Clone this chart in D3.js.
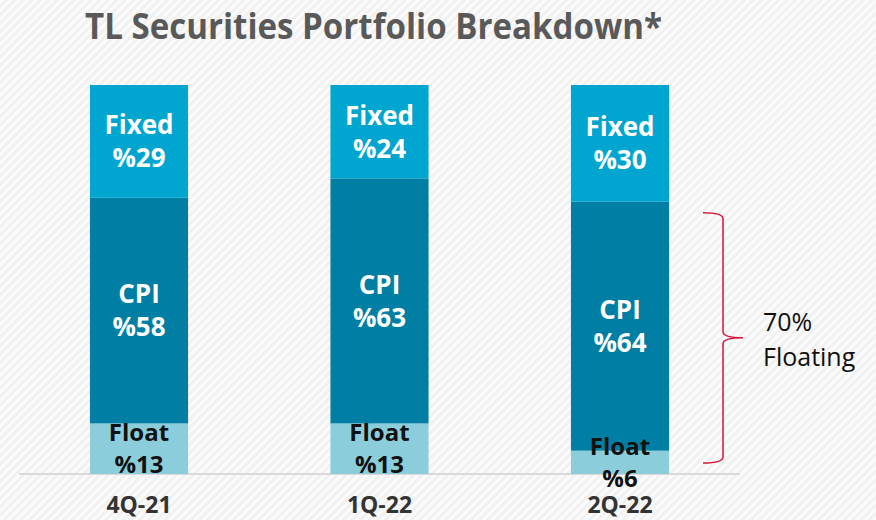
<!DOCTYPE html>
<html>
<head>
<meta charset="utf-8">
<script src="https://cdn.jsdelivr.net/npm/d3@7"></script>
<style>
  body { margin: 0; background: #f3f3f3; }
  svg { display: block; }
</style>
</head>
<body>
<svg width="876" height="520"></svg>
<script>
// data
var quarters = ["4Q-21", "1Q-22", "2Q-22"];
var fixedPct = [29, 24, 30];
var cpiPct = [58, 63, 64];
var floatPct = [13, 13, 6];
var segNames = ["Float", "CPI", "Fixed"];
var segColors = ["#8ccddc", "#007ea3", "#00a6d0"];
var segText = ["#111111", "#ffffff", "#ffffff"];

var svg = d3.select("svg"),
    width = +svg.attr("width"),
    height = +svg.attr("height");

// striped background
var defs = svg.append("defs");
var pat = defs.append("pattern")
    .attr("id", "stripes")
    .attr("width", 6).attr("height", 6)
    .attr("patternUnits", "userSpaceOnUse")
    .attr("patternTransform", "rotate(45)");
pat.append("rect").attr("width", 6).attr("height", 6).attr("fill", "#f1f1f1");
pat.append("rect").attr("width", 3).attr("height", 6).attr("fill", "#fbfbfb");
svg.append("rect").attr("width", width).attr("height", height).attr("fill", "url(#stripes)");

// title
svg.append("text")
    .attr("x", 85).attr("y", 39)
    .attr("textLength", 577)
    .attr("lengthAdjust", "spacingAndGlyphs")
    .style("font-family", "'Open Sans', sans-serif")
    .style("font-weight", "bold")
    .style("font-size", "36px")
    .style("fill", "#595959")
    .text("TL Securities Portfolio Breakdown*");

var x = d3.scaleBand()
    .domain(quarters)
    .range([19, 740])
    .paddingInner(0.592)
    .paddingOuter(0.295);

var y = d3.scaleLinear().domain([0, 100]).range([474, 85]);

var table = quarters.map(function(q, i) {
    return { q: q, Float: floatPct[i], CPI: cpiPct[i], Fixed: fixedPct[i] };
});
var series = d3.stack().keys(segNames)(table);

// axis line
svg.append("line")
    .attr("x1", x.range()[0]).attr("x2", x.range()[1])
    .attr("y1", y(0)).attr("y2", y(0))
    .style("stroke", "#d9d9d9")
    .style("stroke-width", 2);

var layer = svg.append("g").selectAll("g")
    .data(series)
    .enter().append("g")
    .attr("fill", function(d, i) { return segColors[i]; });

layer.selectAll("rect")
    .data(function(d) { return d; })
    .enter().append("rect")
    .attr("x", function(d) { return x(d.data.q); })
    .attr("y", function(d) { return y(d[1]); })
    .attr("width", x.bandwidth())
    .attr("height", function(d) { return y(d[0]) - y(d[1]); });

// segment labels
series.forEach(function(s, si) {
    var isFloat = s.key == "Float";
    var fs = isFloat ? 24 : 26;
    var gap = isFloat ? 16 : 16.5;
    s.forEach(function(d) {
        var cx = x(d.data.q) + x.bandwidth() / 2;
        var cy = (y(d[0]) + y(d[1])) / 2;
        var t = svg.append("text")
            .attr("text-anchor", "middle")
            .style("font-family", "'Open Sans', sans-serif")
            .style("font-weight", "bold")
            .style("font-size", fs + "px")
            .style("fill", segText[si]);
        t.append("tspan").attr("x", cx).attr("y", cy - gap + fs * 0.36).text(s.key);
        t.append("tspan").attr("x", cx).attr("y", cy + gap + fs * 0.36).text("%" + (d[1] - d[0]));
    });
});

// category labels
svg.append("g").selectAll("text")
    .data(quarters)
    .enter().append("text")
    .attr("x", function(d) { return x(d) + x.bandwidth() / 2; })
    .attr("y", 513)
    .attr("text-anchor", "middle")
    .style("font-family", "'Open Sans', sans-serif")
    .style("font-weight", "bold")
    .style("font-size", "23px")
    .style("fill", "#333333")
    .text(function(d) { return d; });

// brace for floating share of last quarter
var braceTop = y(series[1][2][1]) + 11, braceBot = y(0) - 11;
var braceMid = (braceTop + braceBot) / 2;
var bx = 723, tipX = 743, ex = 703;
var p = d3.path();
p.moveTo(ex, braceTop);
p.quadraticCurveTo(bx, braceTop, bx, braceTop + 6);
p.lineTo(bx, braceMid - 6);
p.quadraticCurveTo(bx, braceMid, tipX, braceMid);
p.quadraticCurveTo(bx, braceMid, bx, braceMid + 6);
p.lineTo(bx, braceBot - 6);
p.quadraticCurveTo(bx, braceBot, ex, braceBot);
svg.append("path")
    .attr("d", p.toString())
    .attr("fill", "none")
    .style("stroke", "#d4143c")
    .style("stroke-width", 1.5);

var floating = floatPct[2] + cpiPct[2];
var ft = svg.append("text")
    .style("font-family", "'Open Sans', sans-serif")
    .style("font-size", "25px")
    .style("fill", "#111");
ft.append("tspan").attr("x", 763).attr("y", 331).text(floating + "%");
ft.append("tspan").attr("x", 763).attr("y", 366).text("Floating");
</script>
</body>
</html>
